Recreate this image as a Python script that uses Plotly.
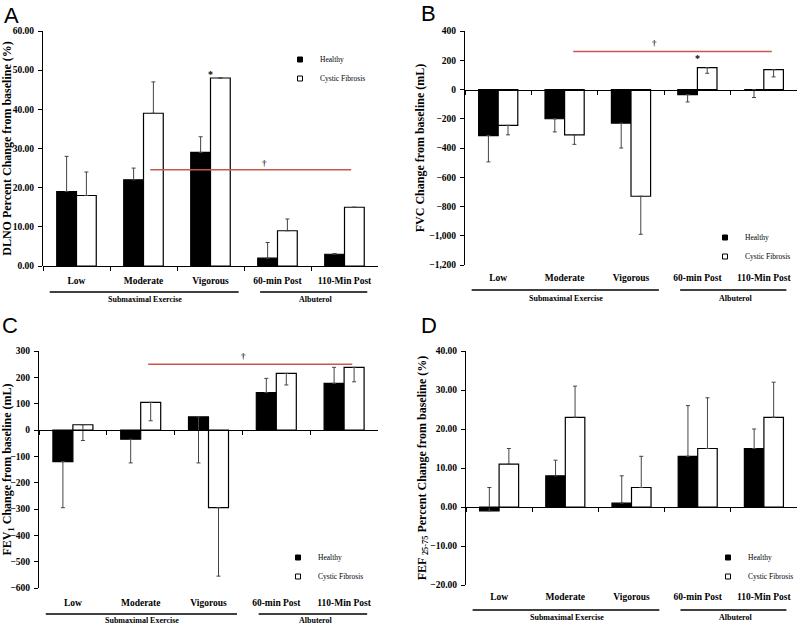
import plotly.graph_objects as go

categories = ["Low", "Moderate", "Vigorous", "60-min Post", "110-Min Post"]
series_names = ["Healthy", "Cystic Fibrosis"]
group_labels = ["Submaximal Exercise", "Albuterol"]

# Panel A: DLNO percent change from baseline (%)
dlno_healthy = [19, 22, 29, 2, 3]
dlno_healthy_up = [9, 3, 4, 4, 0.2]
dlno_healthy_down = [0, 0, 0, 0, 0]
dlno_cf = [18, 39, 48, 9, 15]
dlno_cf_up = [6, 8, 0, 3, 0]
dlno_cf_down = [0, 0, 0, 0, 0]

# Panel B: FVC change from baseline (mL)
fvc_healthy = [-315, -200, -230, -35, 0]
fvc_healthy_up = [0, 0, 0, 0, 0]
fvc_healthy_down = [180, 90, 170, 50, 55]
fvc_cf = [-245, -310, -730, 149, 136]
fvc_cf_up = [0, 0, 0, 0, 0]
fvc_cf_down = [65, 65, 260, 38, 50]

# Panel C: FEV1 change from baseline (mL)
fev1_healthy = [-120, -35, 50, 142, 177]
fev1_healthy_up = [0, 0, 0, 54, 61]
fev1_healthy_down = [175, 90, 175, 0, 0]
fev1_cf = [20, 105, -295, 215, 238]
fev1_cf_up = [0, 0, 0, 0, 0]
fev1_cf_down = [60, 70, 260, 44, 55]

# Panel D: FEF25-75 percent change from baseline (%)
fef_healthy = [-1, 8, 1, 13, 15]
fef_healthy_up = [6, 4, 7, 13, 5]
fef_healthy_down = [0, 0, 0, 0, 0]
fef_cf = [11, 23, 5, 15, 23]
fef_cf_up = [4, 8, 8, 13, 9]
fef_cf_down = [0, 0, 0, 0, 0]

# significance line levels
dlno_sig_line = 24.6
fvc_sig_line = 260
fev1_sig_line = 250

SERIF = "'Liberation Serif', 'Times New Roman', Times, serif"
SANS = "'Liberation Sans', Arial, sans-serif"
W, H = 800, 626


def px(x):
    return x / W


def py(y):
    return 1 - y / H


panels = [
    dict(letter="A", letter_xy=(11, 15), xdom=(43, 378), ydom=(266, 31), yrange=(0, 60), dtick=10,
         fmt=".2f", title="DLNO Percent Change from baseline (%)", standoff=0, xstand=7,
         healthy=(dlno_healthy, dlno_healthy_up, dlno_healthy_down),
         cf=(dlno_cf, dlno_cf_up, dlno_cf_down),
         legend_xy=(280, 45), group_line_y=292, group_label_y=299,
         sig=(1.1, 4.1, dlno_sig_line), dagger=(2.8, 26.3), star=(2.0, 49.0)),
    dict(letter="B", letter_xy=(428, 14), xdom=(465, 797), ydom=(265, 31), yrange=(-1200, 400), dtick=200,
         fmt=",d", title="FVC Change from baseline (mL)", standoff=2, xstand=5,
         healthy=(fvc_healthy, fvc_healthy_up, fvc_healthy_down),
         cf=(fvc_cf, fvc_cf_up, fvc_cf_down),
         legend_xy=(705, 223), group_line_y=290, group_label_y=298,
         sig=(1.13, 4.12, fvc_sig_line), dagger=(2.36, 315), star=(3.0, 210)),
    dict(letter="C", letter_xy=(10, 325), xdom=(39, 378), ydom=(588, 351), yrange=(-600, 300), dtick=100,
         fmt="d", title="FEV<sub>1</sub> Change from baseline (mL)", standoff=0, xstand=7,
         healthy=(fev1_healthy, fev1_healthy_up, fev1_healthy_down),
         cf=(fev1_cf, fev1_cf_up, fev1_cf_down),
         legend_xy=(278, 543), group_line_y=614, group_label_y=620,
         sig=(1.11, 4.12, fev1_sig_line), dagger=(2.51, 282), star=None),
    dict(letter="D", letter_xy=(429, 325), xdom=(466, 797), ydom=(585, 351), yrange=(-20, 40), dtick=10,
         fmt=".2f", title="FEF <sub>25-75</sub> Percent Change from baseline (%)", standoff=0, xstand=4,
         healthy=(fef_healthy, fef_healthy_up, fef_healthy_down),
         cf=(fef_cf, fef_cf_up, fef_cf_down),
         legend_xy=(708, 543), group_line_y=610, group_label_y=617,
         sig=None, dagger=None, star=None),
]

fig = go.Figure()
layout = dict(
    width=W, height=H, margin=dict(l=0, r=0, t=0, b=0, autoexpand=False),
    paper_bgcolor="white", plot_bgcolor="white",
    barmode="group", bargap=0.41, bargroupgap=0,
    font=dict(family=SERIF, color="black"),
    annotations=[], shapes=[],
)

for i, p in enumerate(panels, start=1):
    xa, ya, za = f"x{i}", f"y{i}", f"x{i + 4}"
    xkey, ykey, zkey = f"xaxis{i}", f"yaxis{i}", f"xaxis{i + 4}"
    leg = "legend" if i == 1 else f"legend{i}"
    xd = [px(p["xdom"][0]), px(p["xdom"][1])]
    yd = [py(p["ydom"][0]), py(p["ydom"][1])]
    r0, r1 = p["yrange"]

    for name, (vals, up, down), fill in [
        (series_names[0], p["healthy"], "black"),
        (series_names[1], p["cf"], "white"),
    ]:
        fig.add_trace(go.Bar(
            x=categories, y=vals, name=name, showlegend=False,
            marker=dict(color=fill, line=dict(color="black", width=1.2)),
            error_y=dict(type="data", symmetric=False, array=up, arrayminus=down,
                         color="#444444", thickness=1, width=2),
            xaxis=xa, yaxis=ya, offsetgroup=name,
        ))
        fig.add_trace(go.Scatter(
            x=[None], y=[None], mode="markers", name=name, legend=leg,
            marker=dict(symbol="square", size=5, color=fill, line=dict(color="black", width=1)),
            xaxis=xa, yaxis=ya,
        ))
    # invisible trace binding the zero-line axis
    fig.add_trace(go.Scatter(x=categories, y=[None] * 5, mode="lines", showlegend=False,
                             hoverinfo="skip", xaxis=za, yaxis=ya))

    layout[xkey] = dict(
        domain=xd, anchor=ya, type="category", range=[-0.5, 4.5], automargin=False,
        categoryorder="array", categoryarray=categories,
        showline=False, ticks="", showgrid=False, zeroline=False,
        tickfont=dict(family=SERIF, size=9.5, color="black", weight="bold"),
        ticklabelstandoff=p["xstand"],
    )
    zero_pos = yd[0] + (0 - r0) / (r1 - r0) * (yd[1] - yd[0])
    layout[zkey] = dict(
        overlaying=xa, anchor="free", position=zero_pos, type="category", automargin=False,
        range=[-0.5, 4.5], categoryorder="array", categoryarray=categories,
        showline=True, linecolor="black", linewidth=1,
        ticks="outside", tickson="boundaries", ticklen=4, tickcolor="black",
        showticklabels=False, showgrid=False, zeroline=False,
    )
    layout[ykey] = dict(
        domain=yd, anchor=xa, range=[r0, r1], dtick=p["dtick"], tick0=0, automargin=False,
        tickformat=p["fmt"], showline=True, linecolor="black", linewidth=1,
        ticks="outside", ticklen=4, tickcolor="black", showgrid=False, zeroline=False,
        tickfont=dict(family=SERIF, size=9.5, color="black", weight="bold"),
        ticklabelstandoff=2,
        title=dict(text=p["title"], standoff=p["standoff"],
                   font=dict(family=SERIF, size=12, color="black", weight="bold")),
    )
    layout[leg] = dict(
        x=px(p["legend_xy"][0]), y=py(p["legend_xy"][1]), xanchor="left", yanchor="top",
        xref="paper", yref="paper", bgcolor="rgba(0,0,0,0)", itemwidth=30,
        font=dict(family=SERIF, size=7.5, color="black"), traceorder="normal",
    )

    # panel letter
    layout["annotations"].append(dict(
        text=p["letter"], x=px(p["letter_xy"][0]), y=py(p["letter_xy"][1]),
        xref="paper", yref="paper", xanchor="center", yanchor="middle", showarrow=False,
        font=dict(family=SANS, size=22, color="black")))

    # group lines and labels
    for (g0, g1, gc), label in zip([(-0.4, 2.42, 1.02), (2.74, 4.34, 3.58)], group_labels):
        layout["shapes"].append(dict(
            type="line", xref=xa, yref="paper", x0=g0, x1=g1,
            y0=py(p["group_line_y"]), y1=py(p["group_line_y"]),
            line=dict(color="black", width=1.5)))
        layout["annotations"].append(dict(
            text=label, x=gc, y=py(p["group_label_y"]), xref=xa, yref="paper",
            xanchor="center", yanchor="middle", showarrow=False,
            font=dict(family=SERIF, size=8, color="black", weight="bold")))

    if p["sig"]:
        s0, s1, sy = p["sig"]
        layout["shapes"].append(dict(
            type="line", xref=xa, yref=ya, x0=s0, x1=s1, y0=sy, y1=sy,
            line=dict(color="#c9564f", width=1.5)))
    if p["dagger"]:
        layout["annotations"].append(dict(
            text="†", x=p["dagger"][0], y=p["dagger"][1], xref=xa, yref=ya,
            xanchor="center", yanchor="middle", showarrow=False,
            font=dict(family=SERIF, size=9, color="#333333", weight="bold")))
    if p["star"]:
        layout["annotations"].append(dict(
            text="*", x=p["star"][0], y=p["star"][1], xref=xa, yref=ya,
            xanchor="center", yanchor="middle", showarrow=False,
            font=dict(family=SERIF, size=10, color="black", weight="bold")))

fig.update_layout(**layout)
fig.write_html("out.html", config={"displayModeBar": False},
               post_script="document.body.style.margin='0';")
